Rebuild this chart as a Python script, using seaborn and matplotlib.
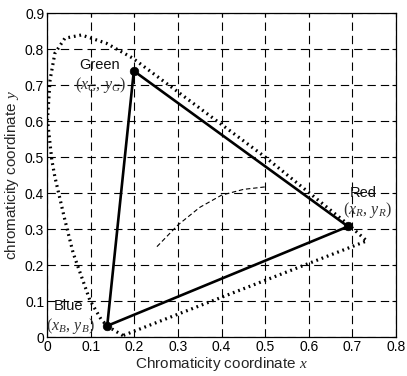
import matplotlib
matplotlib.use("Agg")
import matplotlib.pyplot as plt
import seaborn as sns
import pandas as pd

# Spectral locus outline (dotted), closed by the purple line
locus_x = [0.174, 0.140, 0.125, 0.098, 0.060, 0.041, 0.018, 0.011, 0.001,
           0.007, 0.018, 0.041, 0.079, 0.136, 0.196, 0.500, 0.690, 0.733, 0.174]
locus_y = [0.004, 0.029, 0.047, 0.103, 0.233, 0.325, 0.445, 0.492, 0.603,
           0.714, 0.788, 0.830, 0.839, 0.816, 0.775, 0.500, 0.313, 0.267, 0.004]

# Black-body style curve (thin dashed)
bb_x = [0.252, 0.300, 0.350, 0.400, 0.450, 0.500]
bb_y = [0.251, 0.311, 0.360, 0.394, 0.410, 0.417]

# Primaries
prim_names = ["Green", "Red", "Blue"]
prim_x = [0.199, 0.690, 0.138]
prim_y = [0.739, 0.307, 0.031]

x_ticks = [0, 0.1, 0.2, 0.3, 0.4, 0.5, 0.6, 0.7, 0.8]
y_ticks = [0, 0.1, 0.2, 0.3, 0.4, 0.5, 0.6, 0.7, 0.8, 0.9]
x_ticklabels = ["0", "0.1", "0.2", "0.3", "0.4", "0.5", "0.6", "0.7", "0.8"]
y_ticklabels = ["0", "0.1", "0.2", "0.3", "0.4", "0.5", "0.6", "0.7", "0.8", "0.9"]

sns.set_style("white")
plt.rcParams["font.family"] = ["Liberation Sans", "DejaVu Sans"]
plt.rcParams["mathtext.fontset"] = "custom"
plt.rcParams["mathtext.it"] = "Liberation Serif:italic"
plt.rcParams["mathtext.rm"] = "Liberation Serif"

fig = plt.figure(figsize=(4.07, 3.76), dpi=100)
ax = fig.add_axes([0.1155, 0.1037, 0.8575, 0.8617])

locus = pd.DataFrame({"x": locus_x, "y": locus_y})
bb = pd.DataFrame({"x": bb_x, "y": bb_y})
tri = pd.DataFrame({"x": prim_x + prim_x[:1], "y": prim_y + prim_y[:1]})
prim = pd.DataFrame({"x": prim_x, "y": prim_y, "name": prim_names})

sns.lineplot(data=locus, x="x", y="y", sort=False, estimator=None, ax=ax,
             color="black", lw=2.3, linestyle=(0, (0.55, 1.2)),
             solid_capstyle="butt", dash_capstyle="butt")
sns.lineplot(data=bb, x="x", y="y", sort=False, estimator=None, ax=ax,
             color="black", lw=0.8, linestyle=(0, (4, 2.5)))
sns.lineplot(data=tri, x="x", y="y", sort=False, estimator=None, ax=ax,
             color="black", lw=1.9)
sns.scatterplot(data=prim, x="x", y="y", ax=ax, color="black", s=38,
                edgecolor="black", zorder=5)

ax.set_xlim(0, 0.8)
ax.set_ylim(0, 0.9)
ax.set_xticks(x_ticks)
ax.set_xticklabels(x_ticklabels)
ax.set_yticks(y_ticks)
ax.set_yticklabels(y_ticklabels)
ax.tick_params(direction="in", length=3, width=0.8, labelsize=10,
               top=True, right=True, colors="black", pad=2)
ax.grid(True, color="black", lw=0.8, linestyle=(0, (7.5, 4.5)))
for s in ax.spines.values():
    s.set_color("black")
    s.set_linewidth(0.9)

ax.set_xlabel("Chromaticity coordinate $\\mathit{x}$", fontsize=11, labelpad=1)
ax.set_ylabel("chromaticity coordinate $\\mathit{y}$", fontsize=11, labelpad=3)

tcol = "#111111"
mcol = "#333333"
ax.text(0.121, 0.756, "Green", ha="center", va="center", fontsize=10.5, color=tcol)
ax.text(0.123, 0.700, "$(x_G,\\,y_G)$", ha="center", va="center", fontsize=11.5, color=mcol)
ax.text(0.725, 0.400, "Red", ha="center", va="center", fontsize=10.5, color=tcol)
ax.text(0.734, 0.353, "$(x_R,\\,y_R)$", ha="center", va="center", fontsize=11.5, color=mcol)
ax.text(0.050, 0.086, "Blue", ha="center", va="center", fontsize=10.5, color=tcol)
ax.text(0.054, 0.030, "$(x_B,\\,y_B)$", ha="center", va="center", fontsize=11.5, color=mcol)

fig.savefig("out.png", dpi=100)
